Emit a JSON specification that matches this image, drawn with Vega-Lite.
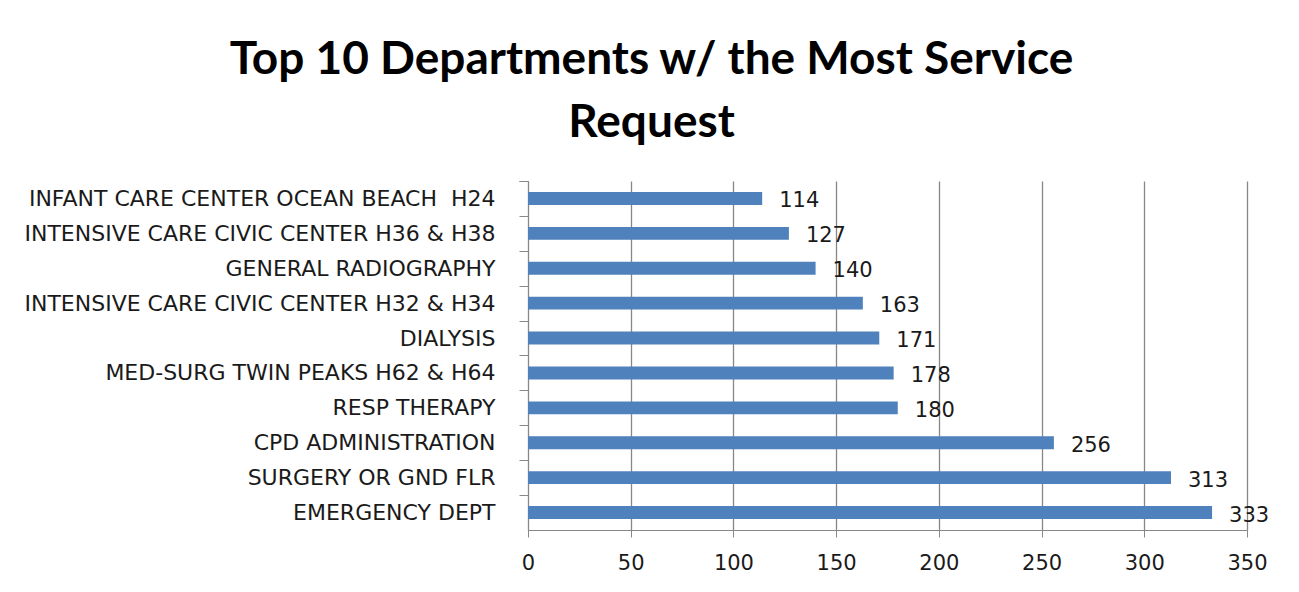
{
  "$schema": "https://vega.github.io/schema/vega-lite/v6.json",
  "width": 719,
  "height": 349,
  "autosize": {"type": "none"},
  "padding": {"left": 528, "top": 181, "right": 52, "bottom": 62},
  "background": "white",
  "title": {
    "text": ["Top 10 Departments w/ the Most Service", "Request"],
    "font": "Lato",
    "fontSize": 46,
    "fontWeight": "bold",
    "color": "#000000",
    "lineHeight": 63,
    "anchor": "middle",
    "frame": "group",
    "dx": -236,
    "offset": 23
  },
  "data": {
    "values": [
      {"department": "INFANT CARE CENTER OCEAN BEACH \u00a0H24", "requests": 114},
      {"department": "INTENSIVE CARE CIVIC CENTER H36 & H38", "requests": 127},
      {"department": "GENERAL RADIOGRAPHY", "requests": 140},
      {"department": "INTENSIVE CARE CIVIC CENTER H32 & H34", "requests": 163},
      {"department": "DIALYSIS", "requests": 171},
      {"department": "MED-SURG TWIN PEAKS H62 & H64", "requests": 178},
      {"department": "RESP THERAPY", "requests": 180},
      {"department": "CPD ADMINISTRATION", "requests": 256},
      {"department": "SURGERY OR GND FLR", "requests": 313},
      {"department": "EMERGENCY DEPT", "requests": 333}
    ]
  },
  "encoding": {
    "y": {
      "field": "department",
      "type": "nominal",
      "sort": {"field": "requests", "order": "ascending"},
      "scale": {"paddingInner": 0.63, "paddingOuter": 0.315},
      "axis": {
        "title": null,
        "bandPosition": 0,
        "tickOffset": -11,
        "labelOffset": 11,
        "tickExtra": true,
        "tickSize": 9,
        "tickColor": "#888888",
        "domainColor": "#888888",
        "labelFont": "DejaVu Sans",
        "labelFontSize": 22,
        "labelColor": "#1a1a1a",
        "labelPadding": 24,
        "labelLimit": 600,
        "grid": false
      }
    },
    "x": {
      "field": "requests",
      "type": "quantitative",
      "scale": {"domain": [0, 350], "nice": false},
      "axis": {
        "title": null,
        "values": [0, 50, 100, 150, 200, 250, 300, 350],
        "grid": true,
        "gridColor": "#878787",
        "gridWidth": 1.3,
        "tickSize": 7,
        "tickColor": "#888888",
        "domainColor": "#888888",
        "labelFont": "DejaVu Sans",
        "labelFontSize": 21,
        "labelColor": "#1a1a1a",
        "labelPadding": 15,
        "labelFlush": false
      }
    }
  },
  "layer": [
    {"mark": {"type": "bar", "color": "#4F81BD"}},
    {
      "mark": {
        "type": "text",
        "align": "left",
        "baseline": "middle",
        "dx": 17,
        "dy": 3,
        "font": "DejaVu Sans",
        "fontSize": 21,
        "color": "#1a1a1a"
      },
      "encoding": {"text": {"field": "requests", "type": "quantitative"}}
    }
  ],
  "config": {"view": {"stroke": null}}
}
